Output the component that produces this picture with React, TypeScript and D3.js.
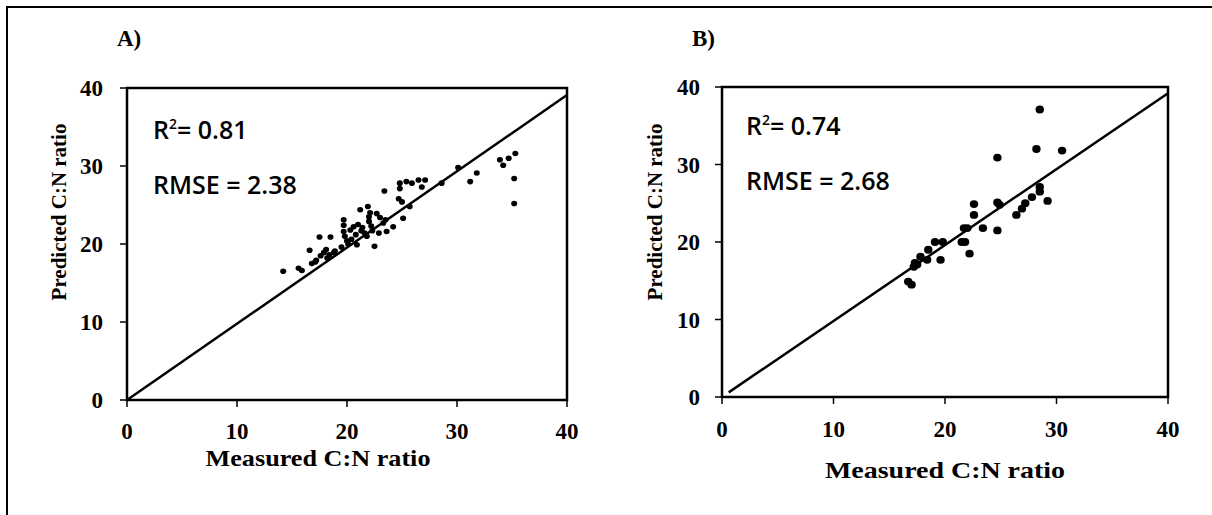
import React from "react";
import * as d3 from "d3";

// Panel A data (Measured, Predicted)
const measuredA = [14.2,15.6,15.9,16.6,16.8,17.1,17.2,17.5,18.5,17.6,17.9,18.1,18.4,18.8,18.2,18.9,19.7,19.7,19.7,19.8,20.0,20.1,19.5,20.6,20.9,20.4,20.8,21.2,21.9,22.1,21.4,21.6,21.8,21.3,22.0,22.0,22.2,22.3,22.5,22.9,23.6,23.4,23.5,23.3,24.2,24.7,25.0,25.1,24.8,24.8,25.4,25.9,25.7,26.5,27.1,26.8,28.6,30.1,31.2,31.8,33.9,34.2,34.7,35.3,35.2,35.2,20.3,21.0,22.7,23.0];
const predictedA = [16.5,16.9,16.6,19.2,17.5,17.7,17.9,20.9,20.9,18.5,18.9,19.3,18.6,18.9,18.2,19.1,23.1,22.4,21.6,21.0,20.4,20.0,19.6,22.2,19.9,20.6,21.2,24.4,24.8,24.0,22.1,21.4,21.0,21.7,23.5,22.9,22.3,21.7,19.7,21.4,21.6,26.8,23.1,22.7,22.2,25.8,25.4,23.3,27.8,27.1,28.0,27.8,24.8,28.2,28.2,27.3,27.8,29.8,28.0,29.1,30.8,30.1,31.0,31.6,28.4,25.2,21.8,22.5,23.9,23.4];

// Panel B data
const measuredB = [16.7,17.0,17.2,17.3,17.5,17.8,18.4,18.5,19.1,19.6,19.8,21.5,21.8,21.7,22.0,22.2,22.6,22.6,23.4,24.7,24.7,24.9,24.7,26.4,26.9,27.2,27.8,28.2,28.5,28.5,28.5,29.2,30.5];
const predictedB = [14.9,14.5,16.8,17.3,17.1,18.1,17.7,19.0,20.0,17.7,20.0,20.0,20.0,21.8,21.8,18.5,24.9,23.5,21.8,30.9,25.1,24.8,21.5,23.5,24.3,25.0,25.8,32.0,37.1,27.1,26.5,25.3,31.8];

const lineA = [[0, 0], [40, 39.1]];
const lineB = [[0.6, 0.6], [40, 39.2]];

const ticks = [0, 10, 20, 30, 40];
const panelLabels = ["A)", "B)"];
const r2Values = ["0.81", "0.74"];
const rmseValues = ["2.38", "2.68"];
const xTitle = "Measured C:N ratio";
const yTitle = "Predicted C:N ratio";

const serif = "'Liberation Serif', 'Times New Roman', serif";
const sans = "'Open Sans', 'Liberation Sans', sans-serif";

type PanelProps = {
  box: { l: number; r: number; t: number; b: number };
  xs: number[];
  ys: number[];
  line: number[][];
  label: string;
  labelPos: [number, number];
  r2: string;
  rmse: string;
  statPos: [number, number, number];
  xTitlePos: [number, number, number, number];
  yTitlePos: [number, number];
  dot: [number, number];
  yLabelRight: number;
  xLabelBase: number;
};

function Panel(p: PanelProps) {
  const x = d3.scaleLinear().domain([0, 40]).range([p.box.l, p.box.r]);
  const y = d3.scaleLinear().domain([0, 40]).range([p.box.b, p.box.t]);
  const lineGen = d3.line<number[]>().x((d) => x(d[0])).y((d) => y(d[1]));
  const pts = p.xs.map((v, i) => [v, p.ys[i]]);
  return (
    <g>
      <text x={p.labelPos[0]} y={p.labelPos[1]} fontFamily={serif} fontWeight="bold" fontSize={23}>{p.label}</text>
      <rect x={p.box.l} y={p.box.t} width={p.box.r - p.box.l} height={p.box.b - p.box.t} fill="none" stroke="#000" strokeWidth={2.5} />
      {ticks.map((t) => (
        <g key={"y" + t}>
          <line x1={p.box.l - 7} x2={p.box.l} y1={y(t)} y2={y(t)} stroke="#000" strokeWidth={1.5} />
          <text x={p.yLabelRight} y={y(t) + 8} textAnchor="end" fontFamily={serif} fontWeight="bold" fontSize={23}>{t}</text>
        </g>
      ))}
      {ticks.map((t) => (
        <g key={"x" + t}>
          <line x1={x(t)} x2={x(t)} y1={p.box.b} y2={p.box.b + 7} stroke="#000" strokeWidth={1.5} />
          <text x={x(t)} y={p.xLabelBase} textAnchor="middle" fontFamily={serif} fontWeight="bold" fontSize={23}>{t}</text>
        </g>
      ))}
      <path d={lineGen(p.line) || ""} stroke="#000" strokeWidth={2.5} fill="none" />
      {pts.map((d, i) => (
        <ellipse key={i} cx={x(d[0])} cy={y(d[1])} rx={p.dot[0]} ry={p.dot[1]} fill="#000" />
      ))}
      <text x={p.statPos[0]} y={p.statPos[1]} fontFamily={sans} fontWeight={600} fontSize={25}>
        R<tspan fontSize={14} dy={-10}>2</tspan><tspan dy={10}>= {p.r2}</tspan>
      </text>
      <text x={p.statPos[0]} y={p.statPos[2]} fontFamily={sans} fontWeight={600} fontSize={25}>RMSE = {p.rmse}</text>
      <text x={p.xTitlePos[0]} y={p.xTitlePos[1]} textAnchor="middle" fontFamily={serif} fontWeight="bold" fontSize={p.xTitlePos[2]} textLength={p.xTitlePos[3]} lengthAdjust="spacingAndGlyphs">{xTitle}</text>
      <text transform={`translate(${p.yTitlePos[0]},${p.yTitlePos[1]}) rotate(-90)`} textAnchor="middle" fontFamily={serif} fontWeight="bold" fontSize={21}>{yTitle}</text>
    </g>
  );
}

export default function App() {
  return (
    <svg width={1212} height={515} style={{ position: "absolute", left: 0, top: 0, background: "#fff" }}>
      <rect x={0} y={0} width={1212} height={515} fill="#fff" />
      <line x1={7} x2={7} y1={6} y2={515} stroke="#000" strokeWidth={2} />
      <line x1={6} x2={1212} y1={7} y2={7} stroke="#000" strokeWidth={2} />
      <Panel
        box={{ l: 127, r: 567, t: 88, b: 400 }}
        xs={measuredA}
        ys={predictedA}
        line={lineA}
        label={panelLabels[0]}
        labelPos={[117, 46]}
        r2={r2Values[0]}
        rmse={rmseValues[0]}
        statPos={[153, 139, 194]}
        xTitlePos={[318, 466, 23, 225]}
        yTitlePos={[66, 212]}
        dot={[3, 2.8]}
        yLabelRight={103}
        xLabelBase={439}
      />
      <Panel
        box={{ l: 722, r: 1168, t: 87, b: 397 }}
        xs={measuredB}
        ys={predictedB}
        line={lineB}
        label={panelLabels[1]}
        labelPos={[692, 46]}
        r2={r2Values[1]}
        rmse={rmseValues[1]}
        statPos={[746, 135, 190]}
        xTitlePos={[945, 478, 24, 240]}
        yTitlePos={[662, 212]}
        dot={[4.2, 3.9]}
        yLabelRight={700}
        xLabelBase={437}
      />
    </svg>
  );
}
